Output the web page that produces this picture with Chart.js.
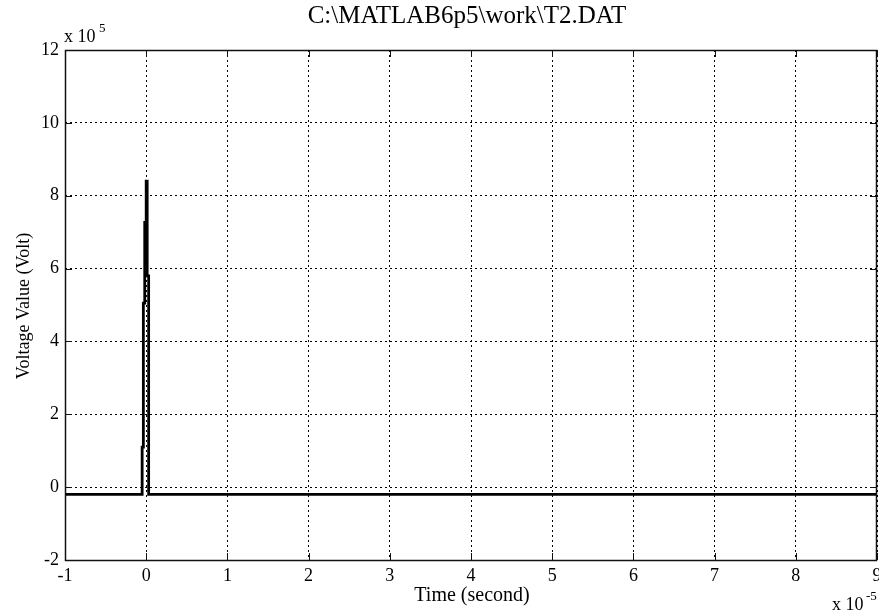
<!DOCTYPE html>
<html>
<head>
<meta charset="utf-8">
<title>T2.DAT</title>
<script src="https://cdn.jsdelivr.net/npm/chart.js@4.4.0/dist/chart.umd.min.js"></script>
<style>
  html, body { margin: 0; padding: 0; background: #fff; }
  canvas { display: block; }
</style>
</head>
<body>
<canvas id="volt-chart" width="879" height="612"></canvas>
<script>
// Time in units of 1e-5 s, voltage in units of 1e5 V
const timeValues = [-1, -0.05, -0.05, -0.035, -0.035, -0.018, -0.018, 0.0, 0.0, 0.012, 0.012, 0.03, 0.03, 9];
const voltValues = [-0.2, -0.2, 1.1, 1.1, 5.05, 5.05, 7.27, 7.27, 8.4, 8.4, 5.8, 5.8, -0.2, -0.2];
const xTicks = [-1, 0, 1, 2, 3, 4, 5, 6, 7, 8, 9];
const yTicks = [-2, 0, 2, 4, 6, 8, 10, 12];

const titleText = 'C:\\MATLAB6p5\\work\\T2.DAT';
const xLabel = 'Time (second)';
const yLabel = 'Voltage Value (Volt)';
const serif = '"Liberation Serif", "Times New Roman", serif';

// MATLAB-style frame: box, inward ticks, title, axis labels and exponents
const matlabFrame = {
  id: 'matlabFrame',
  afterDraw(chart) {
    const { ctx, chartArea: a, scales } = chart;
    const tickLen = 7;
    ctx.save();
    ctx.strokeStyle = '#111';
    ctx.lineWidth = 1;
    ctx.beginPath();
    xTicks.forEach(v => {
      const x = Math.round(scales.x.getPixelForValue(v)) + 0.5;
      ctx.moveTo(x, a.top); ctx.lineTo(x, a.top + tickLen);
      ctx.moveTo(x, a.bottom); ctx.lineTo(x, a.bottom - tickLen);
    });
    yTicks.forEach(v => {
      const y = Math.round(scales.y.getPixelForValue(v)) + 0.5;
      ctx.moveTo(a.left, y); ctx.lineTo(a.left + tickLen, y);
      ctx.moveTo(a.right, y); ctx.lineTo(a.right - tickLen, y);
    });
    ctx.stroke();
    ctx.lineWidth = 1.5;
    ctx.strokeRect(Math.round(a.left) + 0.5, Math.round(a.top) + 0.5,
      Math.round(a.right - a.left) - 1, Math.round(a.bottom - a.top));

    ctx.fillStyle = '#000';
    ctx.textBaseline = 'alphabetic';

    // title
    ctx.font = '25px ' + serif;
    ctx.textAlign = 'center';
    ctx.fillText(titleText, 467, 23);

    // x label
    ctx.font = '20px ' + serif;
    ctx.fillText(xLabel, 472, 601);

    // y label, rotated
    ctx.save();
    ctx.font = '18px ' + serif;
    ctx.translate(29, 306);
    ctx.rotate(-Math.PI / 2);
    ctx.fillText(yLabel, 0, 0);
    ctx.restore();

    // exponent markers
    ctx.textAlign = 'left';
    ctx.font = '18px ' + serif;
    ctx.fillText('x 10', 64, 42);
    ctx.font = '13px ' + serif;
    ctx.fillText('5', 99, 32);
    ctx.font = '18px ' + serif;
    ctx.fillText('x 10', 832, 610);
    ctx.font = '13px ' + serif;
    ctx.fillText('-5', 866, 600);
    ctx.restore();
  }
};

const gridStyle = {
  color: '#000',
  lineWidth: 1,
  drawTicks: false
};

new Chart(document.getElementById('volt-chart').getContext('2d'), {
  type: 'line',
  data: {
    datasets: [{
      data: timeValues.map((t, i) => ({ x: t, y: voltValues[i] })),
      borderColor: '#000',
      borderWidth: 2.8,
      pointRadius: 0,
      tension: 0,
      fill: false
    }]
  },
  options: {
    responsive: false,
    animation: false,
    events: [],
    layout: { padding: { top: 50, right: 2, left: 0, bottom: 0 } },
    plugins: {
      legend: { display: false },
      tooltip: { enabled: false }
    },
    scales: {
      x: {
        type: 'linear',
        min: -1,
        max: 9,
        afterBuildTicks: s => { s.ticks = xTicks.map(v => ({ value: v })); },
        afterFit: s => { s.height = 52; s.paddingLeft = 0; s.paddingRight = 0; },
        ticks: {
          color: '#000',
          padding: 5,
          maxRotation: 0,
          font: { family: serif, size: 18 }
        },
        grid: gridStyle,
        border: { display: false, dash: [2, 3] }
      },
      y: {
        type: 'linear',
        min: -2,
        max: 12,
        afterBuildTicks: s => { s.ticks = yTicks.map(v => ({ value: v })); },
        afterFit: s => { s.width = 65; s.paddingTop = 0; s.paddingBottom = 0; },
        ticks: {
          color: '#000',
          padding: 6,
          font: { family: serif, size: 18 }
        },
        grid: gridStyle,
        border: { display: false, dash: [2, 3] }
      }
    }
  },
  plugins: [matlabFrame]
});
</script>
</body>
</html>
